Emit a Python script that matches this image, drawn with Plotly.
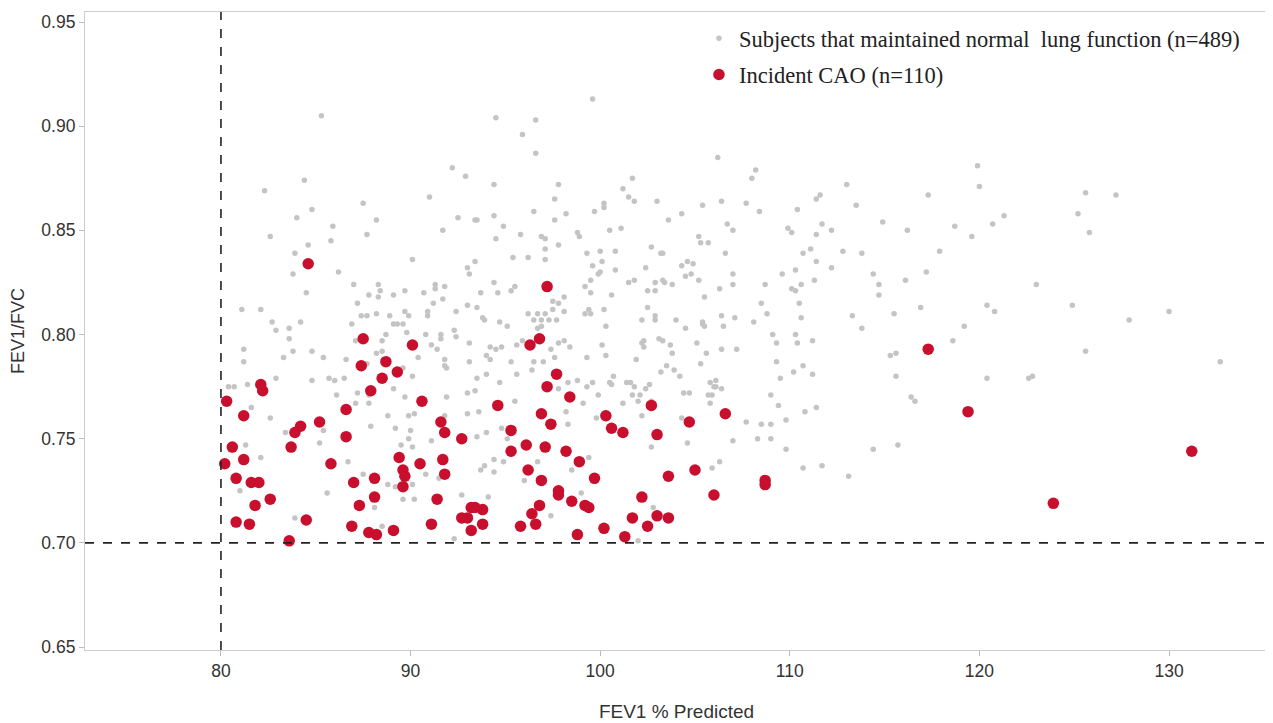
import plotly.graph_objects as go

# ---------------- data ----------------
normal_x = [
 85.3,92.2,92.9,82.3,84.4,91.0,87.5,84.8,84.0,88.2,92.5,93.4,85.9,91.7,82.6,87.7,85.8,84.6,83.9,
 99.6,94.5,96.6,95.9,96.6,106.2,94.4,97.8,101.7,101.2,101.5,101.8,103.0,97.6,100.2,100.2,105.4,106.4,
 93.5,94.4,96.5,98.2,99.7,97.6,103.6,104.3,94.9,106.7,107.0,94.5,95.8,96.9,97.1,98.8,98.9,100.5,101.1,
 105.2,105.3,105.7,97.1,97.8,99.3,100.0,100.8,102.7,103.2,103.3,106.6,
 108.2,108.0,113.0,111.4,111.6,107.7,108.4,110.4,113.5,117.3,119.9,120.0,109.9,110.1,111.7,112.2,111.4,
 111.1,110.7,112.8,113.8,114.9,116.2,118.7,119.6,120.7,117.9,
 121.3,125.6,127.2,125.2,125.8,
 90.1,83.8,86.2,93.0,93.1,93.4,84.5,87.0,88.3,88.4,87.8,88.3,89.1,89.7,90.7,91.3,91.8,91.3,91.7,91.2,
 81.1,82.1,87.2,82.7,82.9,83.6,84.2,86.9,87.4,87.7,88.2,88.9,89.7,89.9,90.9,90.9,89.1,89.3,89.6,89.8,
 92.4,93.0,83.6,87.1,88.5,88.7,90.8,91.6,91.6,92.3,92.4,93.1,81.2,83.8,84.8,83.3,81.2,85.4,86.6,88.2,
 88.5,90.4,91.1,91.4,91.8,91.8,91.9,93.1,82.9,84.8,85.7,86.0,86.5,87.7,89.6,90.1,80.4,80.7,81.4,86.1,
 87.2,87.8,89.1,89.7,91.9,93.0,93.4,
 95.4,96.2,97.1,100.1,100.8,99.6,99.9,100.0,99.5,99.2,99.5,101.5,101.8,102.4,102.5,102.9,102.9,103.3,
 103.4,103.8,104.3,104.6,104.9,104.5,104.8,105.2,105.5,106.3,107.0,107.0,94.4,93.7,94.6,95.3,95.5,93.5,
 93.8,93.9,94.7,95.1,96.2,96.7,97.1,97.5,98.1,98.1,97.8,97.5,96.5,96.9,97.3,97.7,96.7,96.9,99.2,99.5,
 99.4,100.2,100.6,100.3,102.2,102.5,102.9,102.9,104.0,104.5,105.4,105.5,105.4,106.4,106.5,107.1,94.2,
 94.5,94.8,94.0,94.2,95.6,95.9,97.4,97.8,98.1,98.4,97.6,99.3,100.1,100.3,101.9,102.3,102.2,102.3,103.1,
 103.3,103.7,103.8,105.1,105.6,106.4,95.3,96.5,97.0,96.4,95.6,93.5,94.7,95.5,97.8,98.3,98.8,99.3,99.6,
 99.9,100.5,100.7,100.6,101.2,101.4,101.6,101.8,102.4,102.6,102.7,103.2,103.5,103.9,104.2,105.3,105.8,
 106.1,106.0,106.1,106.4,105.7,105.9,104.4,104.7,102.1,101.7,94.0,
 111.4,112.2,109.6,110.3,111.3,108.7,110.1,110.3,110.6,114.4,114.7,114.7,116.1,117.2,108.5,108.8,110.5,
 110.6,108.1,113.3,113.8,115.5,116.9,119.2,118.6,120.4,120.8,109.1,109.3,110.3,110.4,111.2,107.2,109.3,
 110.7,110.2,111.2,109.5,115.3,115.6,115.6,120.4,109.0,116.4,116.6,109.4,
 123.0,124.9,127.9,130.0,125.6,122.8,122.6,132.7,
 81.6,82.6,83.4,85.4,85.2,81.3,82.1,81.0,83.9,85.6,86.7,87.1,87.8,87.9,88.8,89.2,89.9,90.2,90.0,89.9,
 89.5,90.1,91.1,90.8,91.5,91.8,93.0,87.5,88.8,89.2,90.1,89.6,90.2,92.7,92.3,88.5,88.1,
 93.6,93.5,94.0,94.8,95.1,98.2,98.3,99.1,102.0,102.2,99.8,104.3,104.6,105.8,102.7,107.0,99.4,98.5,96.7,
 94.4,94.9,94.4,93.7,93.9,96.0,99.0,94.1,97.4,102.8,105.9,106.3,102.0,
 110.8,111.4,107.7,108.5,109.0,109.8,108.3,109.0,109.8,110.7,111.7,113.1,114.4,115.7,
]
normal_y = [
 0.905,0.880,0.876,0.869,0.874,0.866,0.863,0.860,0.856,0.855,0.856,0.855,0.852,0.850,0.847,0.848,0.845,0.843,0.839,
 0.913,0.904,0.903,0.896,0.887,0.885,0.872,0.872,0.875,0.870,0.866,0.864,0.864,0.865,0.863,0.861,0.862,0.864,
 0.855,0.857,0.859,0.858,0.859,0.855,0.855,0.858,0.852,0.853,0.850,0.846,0.848,0.847,0.846,0.849,0.847,0.850,0.851,
 0.847,0.844,0.844,0.841,0.843,0.839,0.840,0.840,0.842,0.839,0.839,0.839,
 0.879,0.875,0.872,0.865,0.867,0.863,0.859,0.860,0.862,0.867,0.881,0.871,0.851,0.849,0.853,0.850,0.848,
 0.841,0.839,0.840,0.839,0.854,0.850,0.852,0.847,0.853,0.840,
 0.857,0.868,0.867,0.858,0.849,
 0.836,0.829,0.830,0.832,0.829,0.835,0.820,0.824,0.824,0.821,0.819,0.818,0.819,0.821,0.820,0.824,0.823,0.822,0.817,0.815,
 0.812,0.812,0.815,0.806,0.802,0.803,0.806,0.805,0.809,0.809,0.810,0.809,0.811,0.809,0.811,0.809,0.805,0.805,0.805,0.801,
 0.811,0.814,0.798,0.797,0.797,0.800,0.800,0.800,0.798,0.802,0.799,0.796,0.793,0.792,0.792,0.789,0.787,0.789,0.788,0.791,
 0.792,0.789,0.795,0.793,0.788,0.785,0.784,0.787,0.779,0.778,0.779,0.778,0.779,0.786,0.784,0.780,0.775,0.775,0.776,0.771,
 0.772,0.771,0.774,0.770,0.770,0.772,0.773,
 0.837,0.837,0.836,0.835,0.831,0.833,0.829,0.830,0.826,0.823,0.820,0.825,0.826,0.832,0.821,0.821,0.825,0.826,
 0.825,0.824,0.833,0.835,0.834,0.828,0.829,0.826,0.818,0.822,0.824,0.829,0.825,0.820,0.820,0.821,0.823,0.813,
 0.808,0.807,0.806,0.804,0.810,0.810,0.810,0.812,0.811,0.818,0.815,0.816,0.807,0.807,0.807,0.807,0.803,0.804,0.810,0.810,
 0.812,0.812,0.819,0.804,0.807,0.813,0.809,0.807,0.807,0.803,0.806,0.804,0.805,0.809,0.804,0.808,0.794,
 0.793,0.794,0.790,0.788,0.795,0.797,0.793,0.796,0.797,0.794,0.789,0.789,0.795,0.790,0.788,0.794,0.796,0.797,0.798,
 0.797,0.795,0.791,0.796,0.791,0.793,0.787,0.787,0.787,0.783,0.781,0.779,0.777,0.768,0.774,0.777,0.778,0.775,0.777,
 0.771,0.777,0.780,0.776,0.767,0.777,0.777,0.775,0.774,0.776,0.768,0.782,0.785,0.783,0.780,0.786,0.777,
 0.778,0.775,0.775,0.774,0.771,0.771,0.772,0.772,0.771,0.771,0.781,
 0.835,0.832,0.829,0.831,0.826,0.824,0.822,0.821,0.824,0.829,0.824,0.819,0.826,0.830,0.815,0.810,0.815,
 0.808,0.806,0.809,0.803,0.810,0.813,0.804,0.797,0.814,0.811,0.800,0.796,0.800,0.796,0.797,0.793,0.787,
 0.785,0.782,0.781,0.779,0.790,0.791,0.780,0.779,0.771,0.770,0.768,0.766,
 0.824,0.814,0.807,0.811,0.792,0.780,0.779,0.787,
 0.765,0.760,0.753,0.754,0.748,0.747,0.741,0.725,0.712,0.724,0.739,0.767,0.767,0.756,0.761,0.755,0.761,0.762,0.754,0.750,
 0.747,0.746,0.749,0.733,0.731,0.761,0.762,0.733,0.728,0.727,0.728,0.721,0.721,0.723,0.702,0.708,0.717,
 0.763,0.751,0.753,0.755,0.750,0.763,0.757,0.767,0.768,0.761,0.760,0.760,0.748,0.767,0.746,0.749,0.741,0.735,0.739,
 0.740,0.739,0.734,0.735,0.737,0.730,0.724,0.722,0.713,0.717,0.736,0.739,0.701,
 0.763,0.765,0.758,0.757,0.757,0.759,0.750,0.750,0.745,0.736,0.737,0.732,0.745,0.747,
]

cao_x = [
 80.3,81.2,80.6,80.2,81.2,80.8,81.6,82.0,81.8,82.6,80.8,81.5,83.7,83.9,84.2,85.2,84.5,83.6,85.8,86.6,
 86.6,87.0,87.3,86.9,87.8,88.2,88.1,88.1,89.1,89.4,89.6,89.7,89.6,90.5,90.6,91.6,91.8,91.7,91.8,91.4,
 91.1,92.7,92.7,93.0,93.2,93.2,94.6,96.9,97.4,95.3,96.1,95.3,97.1,98.2,98.9,96.2,96.9,99.7,97.8,97.8,
 98.5,96.8,96.4,99.2,99.4,96.6,95.8,93.8,93.4,93.8,98.8,100.2,101.3,100.3,100.6,101.2,102.7,103.0,104.7,106.6,
 103.6,105.0,102.2,106.0,101.7,103.0,103.6,102.5,97.2,96.8,96.3,97.7,97.2,98.4,84.6,87.5,90.1,87.4,88.7,89.3,
 88.5,87.9,82.1,82.2,117.3,108.7,108.7,119.4,123.9,131.2,
]
cao_y = [
 0.768,0.761,0.746,0.738,0.740,0.731,0.729,0.729,0.718,0.721,0.710,0.709,0.746,0.753,0.756,0.758,0.711,0.701,0.738,0.764,
 0.751,0.729,0.718,0.708,0.705,0.704,0.731,0.722,0.706,0.741,0.735,0.732,0.727,0.738,0.768,0.758,0.753,0.740,0.733,0.721,
 0.709,0.750,0.712,0.712,0.717,0.706,0.766,0.762,0.757,0.754,0.747,0.744,0.746,0.744,0.739,0.735,0.730,0.731,0.725,0.723,
 0.720,0.718,0.714,0.718,0.717,0.709,0.708,0.709,0.717,0.716,0.704,0.707,0.703,0.761,0.755,0.753,0.766,0.752,0.758,0.762,
 0.732,0.735,0.722,0.723,0.712,0.713,0.712,0.708,0.823,0.798,0.795,0.781,0.775,0.770,0.834,0.798,0.795,0.785,0.787,0.782,
 0.779,0.773,0.776,0.773,0.793,0.730,0.728,0.763,0.719,0.744,
]

x_ticks = [80, 90, 100, 110, 120, 130]
y_ticks = [0.65, 0.70, 0.75, 0.80, 0.85, 0.90, 0.95]
x_ref = 80          # FEV1 % predicted threshold
y_ref = 0.70        # FEV1/FVC threshold

normal_name = "Subjects that maintained normal\u00a0 lung function (n=489)"
cao_name = "Incident CAO (n=110)"

# ---------------- figure ----------------
fig = go.Figure()
fig.add_trace(go.Scatter(
    x=normal_x, y=normal_y, mode="markers", name=normal_name, legendgroup="a",
    marker=dict(size=5.5, color="#c4c4c4", line=dict(width=0)),
))
fig.add_trace(go.Scatter(
    x=cao_x, y=cao_y, mode="markers", name=cao_name, legendgroup="b",
    marker=dict(size=11.5, color="#c8102e", line=dict(width=0)),
))

fig.add_shape(type="line", xref="x", yref="paper", x0=x_ref, x1=x_ref, y0=0, y1=1,
              line=dict(color="#222222", width=1.6, dash="dash"))
fig.add_shape(type="line", xref="paper", yref="y", x0=0, x1=1, y0=y_ref, y1=y_ref,
              line=dict(color="#222222", width=1.6, dash="dash"))

sans = "Liberation Sans, Arial, sans-serif"
axis_common = dict(
    showgrid=False, zeroline=False, showline=True, linecolor="#cccccc", linewidth=1.2,
    mirror=True, ticks="outside", tickcolor="#bbbbbb", ticklen=5, automargin=False,
    tickfont=dict(family=sans, size=17.5, color="#333333"),
)

# the page body adds an 8 px offset, so the figure is sized to fit the window
fig.update_layout(
    width=1265, height=715,
    margin=dict(l=77, r=5, t=4, b=73),
    paper_bgcolor="white", plot_bgcolor="white",
    xaxis=dict(range=[72.83, 135.22], tickvals=x_ticks,
               title=dict(text="FEV1 % Predicted", standoff=24,
                          font=dict(family=sans, size=19, color="#333333")),
               **axis_common),
    yaxis=dict(range=[0.6486, 0.9548], tickvals=y_ticks, tickformat=".2f",
               title=dict(text="FEV1/FVC", standoff=14,
                          font=dict(family=sans, size=18, color="#333333")),
               **axis_common),
    legend=dict(x=0.519, y=0.992, xanchor="left", yanchor="top",
                bgcolor="rgba(0,0,0,0)", borderwidth=0,
                font=dict(family="Liberation Serif, Times New Roman, serif", size=22.5, color="#222222"),
                traceorder="grouped", tracegroupgap=4, itemwidth=30),
    showlegend=True,
)

fig.write_html("out.html")
